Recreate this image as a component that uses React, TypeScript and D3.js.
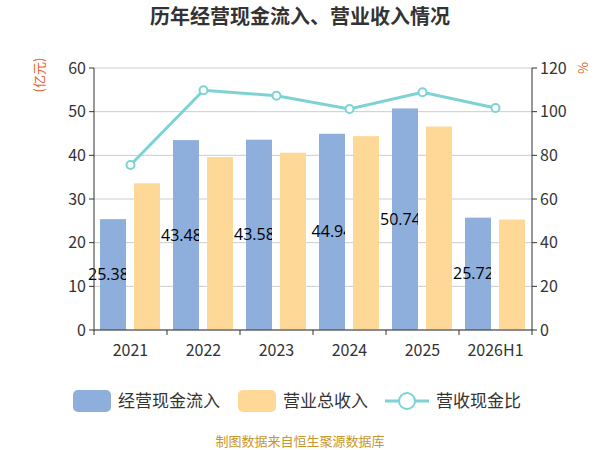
import React from 'react'
import * as d3 from 'd3'

const categories = ['2021', '2022', '2023', '2024', '2025', '2026H1']
const cashIn = [25.387, 43.489, 43.583, 44.94, 50.743, 25.729]
const revenue = [33.6, 39.6, 40.6, 44.4, 46.6, 25.3]
const ratio = [75.6, 109.8, 107.3, 101.2, 108.9, 101.7]
const leftTicks = [0, 10, 20, 30, 40, 50, 60]
const rightTicks = [0, 20, 40, 60, 80, 100, 120]

const W = 600
const H = 450
const L = 94
const R = 532
const T = 68
const B = 330
const font = '"Noto Sans CJK SC", "Noto Sans", sans-serif'

const App = () => {
	const x = d3.scaleBand().domain(categories).range([L, R])
	const yL = d3.scaleLinear().domain([0, 60]).range([B, T])
	const yR = d3.scaleLinear().domain([0, 120]).range([B, T])
	const bw = 26
	const line = d3
		.line<number>()
		.x((_, i) => x(categories[i])! + x.bandwidth() / 2)
		.y((d) => yR(d))

	return (
		<svg width={W} height={H} style={{ position: 'absolute', left: 0, top: 0, fontFamily: font }}>
			<defs>
				{categories.map((c, i) => (
					<clipPath id={`clip${i}`} key={c}>
						<rect x={0} y={0} width={x(c)! + 6 + bw} height={H} />
					</clipPath>
				))}
			</defs>
			<text x={W / 2} y={24} textAnchor="middle" fontSize={20} fontWeight="bold" fill="#333">
				历年经营现金流入、营业收入情况
			</text>
			{leftTicks.map((t) => (
				<g key={t}>
					<line x1={L} x2={R} y1={yL(t)} y2={yL(t)} stroke="#ccc" />
					<text x={L - 8} y={yL(t)} dy="0.35em" textAnchor="end" fontSize={16} fill="#333">{t}</text>
				</g>
			))}
			{rightTicks.map((t) => (
				<text key={t} x={R + 8} y={yR(t)} dy="0.35em" fontSize={16} fill="#333">{t}</text>
			))}
			<text transform={`translate(44,75) rotate(-90)`} textAnchor="middle" fontSize={13} fill="#e8602c">(亿元)</text>
			<text transform={`translate(588,68) rotate(-90)`} textAnchor="middle" fontSize={13} fill="#e8602c">%</text>
			{categories.map((c, i) => (
				<g key={c}>
					<rect x={x(c)! + 6} y={yL(cashIn[i])} width={bw} height={B - yL(cashIn[i])} fill="#8eaedb" />
					<rect x={x(c)! + 40} y={yL(revenue[i])} width={bw} height={B - yL(revenue[i])} fill="#fed897" />
					<text clipPath={`url(#clip${i})`} x={x(c)! + 6 + bw / 2} y={(yL(cashIn[i]) + B) / 2} dy="0.35em" textAnchor="middle" fontSize={16} fontFamily='"Open Sans", sans-serif' fill="#000">
						{cashIn[i]}
					</text>
				</g>
			))}
			<line x1={L} x2={L} y1={T} y2={B} stroke="#333" />
			<line x1={R} x2={R} y1={T} y2={B} stroke="#333" />
			<line x1={L} x2={R} y1={B} y2={B} stroke="#333" />
			{leftTicks.map((t) => (
				<g key={t}>
					<line x1={L - 5} x2={L} y1={yL(t)} y2={yL(t)} stroke="#333" />
					<line x1={R} x2={R + 5} y1={yL(t)} y2={yL(t)} stroke="#333" />
				</g>
			))}
			{[...categories.map((c) => x(c)!), R].map((v, i) => (
				<line key={i} x1={v} x2={v} y1={B} y2={B + 5} stroke="#333" />
			))}
			{categories.map((c) => (
				<text key={c} x={x(c)! + x.bandwidth() / 2} y={B + 26} textAnchor="middle" fontSize={16} fill="#333">{c}</text>
			))}
			<path d={line(ratio)!} fill="none" stroke="#7dd3d3" strokeWidth={3} />
			{ratio.map((r, i) => (
				<circle key={i} cx={x(categories[i])! + x.bandwidth() / 2} cy={yR(r)} r={4} fill="#fff" stroke="#7dd3d3" strokeWidth={2} />
			))}
			<g fontSize={17} fill="#333">
				<rect x={73} y={390} width={38} height={22} rx={5} fill="#8eaedb" />
				<text x={118} y={401} dy="0.35em">经营现金流入</text>
				<rect x={238} y={390} width={38} height={22} rx={5} fill="#fed897" />
				<text x={283} y={401} dy="0.35em">营业总收入</text>
				<line x1={385} x2={429} y1={401} y2={401} stroke="#7dd3d3" strokeWidth={3} />
				<circle cx={407} cy={401} r={8} fill="#fff" stroke="#7dd3d3" strokeWidth={2} />
				<text x={436} y={401} dy="0.35em">营收现金比</text>
			</g>
			<text x={W / 2} y={441} dy="0.35em" textAnchor="middle" fontSize={13} fill="#c8962e">制图数据来自恒生聚源数据库</text>
		</svg>
	)
}

export default App
